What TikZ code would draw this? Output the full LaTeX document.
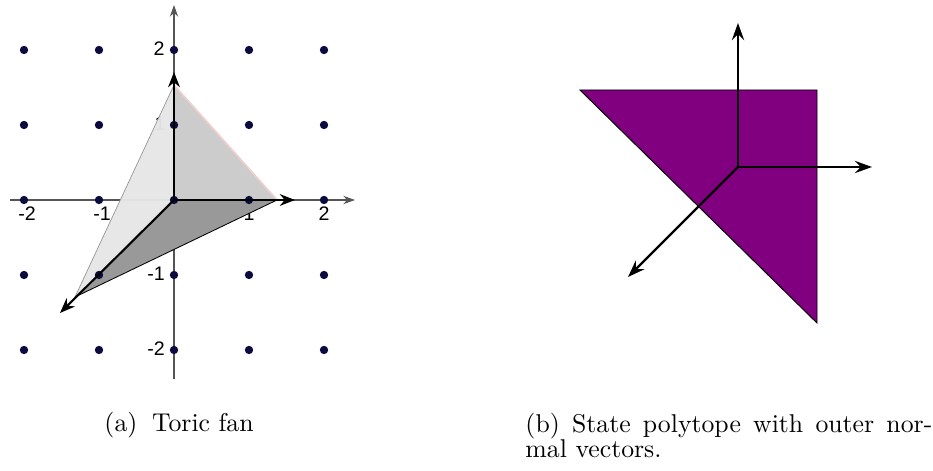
\documentclass[tikz,border=0pt]{standalone}
\usepackage{fontspec}
\newfontfamily\tickfont{Liberation Sans}
\usetikzlibrary{arrows.meta}
\definecolor{dotc}{HTML}{0B0B40}
\definecolor{purp}{HTML}{800080}
\definecolor{axisc}{HTML}{555555}
\definecolor{leftface}{HTML}{E6E6E6}
\definecolor{upface}{HTML}{CCCCCC}
\definecolor{downface}{HTML}{999999}
\definecolor{pinkedge}{HTML}{F0CFCF}
\begin{document}
\begin{tikzpicture}[x=0.408pt,y=-0.408pt,
  axis/.style={draw=axisc, line width=0.5pt, -{Stealth[length=4.8pt,width=3.4pt,inset=1.6pt]}},
  fanvec/.style={line width=0.85pt, -{Stealth[length=6.2pt,width=4.8pt,inset=2pt]}},
  normvec/.style={line width=1pt, -{Stealth[length=7pt,width=5pt,inset=2.4pt]}},
  tick/.style={font=\tickfont\fontsize{8}{9}\selectfont, inner sep=0pt},
  captext/.style={font=\fontsize{10.5}{11}\selectfont, inner sep=0pt, anchor=base west},
  gdot/.style={fill=dotc}]
\useasboundingbox (0,0) rectangle (933,471);
% axes
\coordinate (xs) at (10,200); \coordinate (xe) at (355,200);
\coordinate (ys) at (174,379); \coordinate (ye) at (174,5);
\draw[axis] (xs) -- (xe);
\draw[axis] (ys) -- (ye);
% tick labels
\node[tick] (lxm2) at (27,214) {-2};
\node[tick] (lxm1) at (102,214) {-1};
\node[tick] (lx1) at (249,214) {1};
\node[tick] (lx2) at (324,214) {2};
\node[tick] (ly2) at (159,49) {2};
\node[tick] (ly1) at (160,124) {1};
\node[tick] (lym1) at (156,274) {-1};
\node[tick] (lym2) at (156,349) {-2};
% fan faces
\coordinate (O) at (174,200);
\coordinate (T) at (174,85);
\coordinate (R) at (277,200);
\coordinate (B) at (75,297);
\fill[leftface, opacity=0.97] (O) -- (T) -- (B) -- cycle;
\fill[upface] (O) -- (T) -- (R) -- cycle;
\fill[downface] (O) -- (R) -- (B) -- cycle;
\draw[gray!80, line width=0.3pt] (T) -- (B);
\draw[pinkedge, line width=0.7pt] (T) -- (R);
\draw[black, line width=0.35pt] (B) -- (R);
% lattice points
\foreach \i in {24,99,174,249,324}
  \foreach \j in {50,125,200,275,350}
    \fill[gdot] (\i,\j) circle[radius=1.7pt];
% fan rays
\coordinate (Tu) at (174,72);
\coordinate (Ru) at (295,200);
\coordinate (Bu) at (60,313);
\draw[fanvec] (O) -- (Tu);
\draw[fanvec] (O) -- (Ru);
\draw[fanvec] (O) -- (Bu);
% state polytope
\coordinate (P1) at (580,90);
\coordinate (P2) at (817,90);
\coordinate (P3) at (817,323);
\filldraw[fill=purp, draw=black, line width=0.4pt] (P1) -- (P2) -- (P3) -- cycle;
\coordinate (C) at (738,167);
\coordinate (N1) at (738,23);
\coordinate (N2) at (872,167);
\coordinate (N3) at (628,277);
\draw[normvec] (C) -- (N1);
\draw[normvec] (C) -- (N2);
\draw[normvec] (C) -- (N3);
% captions
\node[captext] (capa) at (104,432) {(a)\hspace{6pt}Toric fan};
\node[captext] (capb1) at (525,433) {\makebox[166pt][s]{(b) State polytope with outer nor-}};
\node[captext] (capb2) at (525,458) {mal vectors.};
\end{tikzpicture}
\end{document}
